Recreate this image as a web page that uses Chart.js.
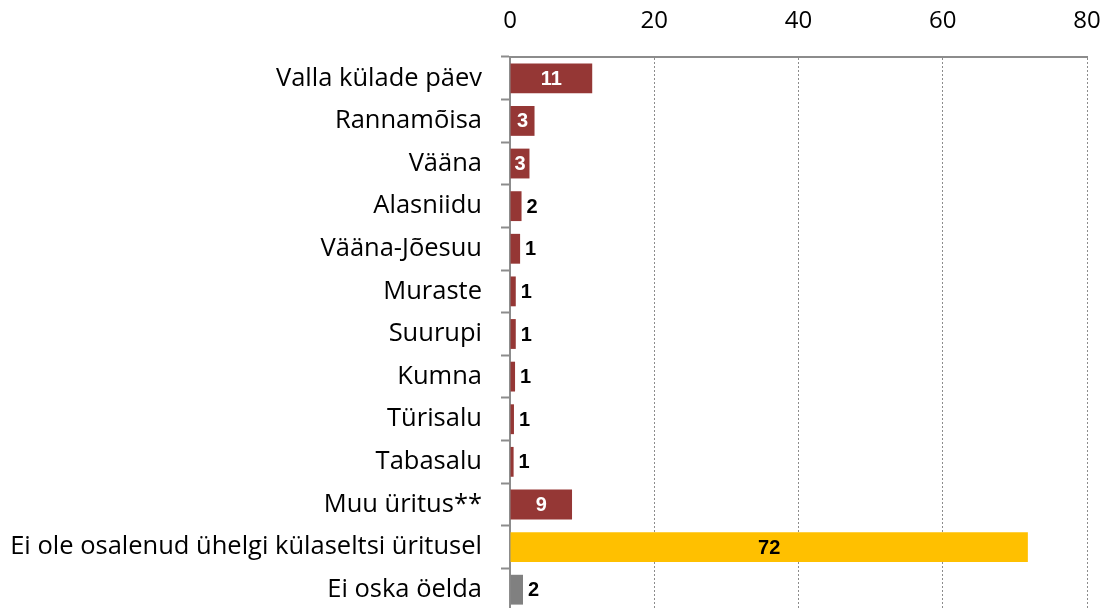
<!DOCTYPE html>
<html>
<head>
<meta charset="utf-8">
<script src="https://cdn.jsdelivr.net/npm/chart.js@4/dist/chart.umd.min.js"></script>
<style>
  html, body { margin: 0; padding: 0; background: #fff; overflow: hidden; }
</style>
</head>
<body>
<canvas id="canvas-bar" width="1108" height="611"></canvas>
<script>
// categories and values
var categories = [
  "Valla külade päev",
  "Rannamõisa",
  "Vääna",
  "Alasniidu",
  "Vääna-Jõesuu",
  "Muraste",
  "Suurupi",
  "Kumna",
  "Türisalu",
  "Tabasalu",
  "Muu üritus**",
  "Ei ole osalenud ühelgi külaseltsi üritusel",
  "Ei oska öelda"
];
var values = [11.4, 3.4, 2.7, 1.6, 1.4, 0.8, 0.8, 0.7, 0.55, 0.5, 8.6, 71.8, 1.8];
var shownLabels = ["11", "3", "3", "2", "1", "1", "1", "1", "1", "1", "9", "72", "2"];
var xTicks = [0, 20, 40, 60, 80];

var RED = "#953735";
var YELLOW = "#FFC000";
var GREY = "#808080";
var barColors = values.map(function (v, i) {
  if (i === 11) return YELLOW;
  if (i === 12) return GREY;
  return RED;
});

// draws the value labels on/after the bars
var barLabels = {
  id: "barLabels",
  afterDatasetsDraw: function (chart) {
    var ctx = chart.ctx;
    var meta = chart.getDatasetMeta(0);
    ctx.save();
    ctx.font = "bold 20px 'Liberation Sans', Arial, sans-serif";
    ctx.textBaseline = "middle";
    meta.data.forEach(function (bar, i) {
      var v = values[i];
      var txt = shownLabels[i];
      if (v >= 2.5) {
        ctx.textAlign = "center";
        ctx.fillStyle = barColors[i] === YELLOW ? "#000" : "#fff";
        ctx.fillText(txt, (bar.x + bar.base) / 2, bar.y + 1);
      } else {
        ctx.textAlign = "left";
        ctx.fillStyle = "#000";
        ctx.fillText(txt, bar.x + 5, bar.y + 1);
      }
    });
    ctx.restore();
  }
};

var ctx = document.getElementById("canvas-bar").getContext("2d");
var chart = new Chart(ctx, {
  type: "bar",
  data: {
    labels: categories,
    datasets: [
      {
        data: values,
        backgroundColor: barColors,
        barPercentage: 0.7,
        categoryPercentage: 1.0
      }
    ]
  },
  options: {
    indexAxis: "y",
    responsive: false,
    animation: false,
    layout: { padding: { left: 0, right: 21, top: 0, bottom: 0 } },
    plugins: {
      legend: { display: false },
      tooltip: { enabled: false }
    },
    scales: {
      x: {
        position: "top",
        min: 0,
        max: 80,
        afterBuildTicks: function (s) {
          s.ticks = xTicks.map(function (v) { return { value: v }; });
        },
        afterFit: function (s) {
          s.height = 57;
          s.paddingLeft = 0;
          s.paddingRight = 0;
        },
        grid: {
          color: "#8c8c8c",
          lineWidth: 1,
          drawTicks: false
        },
        border: { display: true, color: "#8c8c8c", width: 2, dash: [2, 2] },
        ticks: {
          color: "#000",
          padding: 21,
          font: { family: "'Open Sans', sans-serif", size: 24 }
        }
      },
      y: {
        afterFit: function (s) {
          s.width = 510;
          s.paddingTop = 0;
          s.paddingBottom = 0;
        },
        grid: {
          offset: true,
          drawOnChartArea: false,
          drawTicks: true,
          tickLength: 9,
          tickColor: "#8c8c8c",
          tickWidth: 2
        },
        border: { display: true, color: "#8c8c8c", width: 2 },
        ticks: {
          color: "#000",
          padding: 19,
          autoSkip: false,
          font: { family: "'Open Sans', sans-serif", size: 25.5 }
        }
      }
    }
  },
  plugins: [barLabels]
});
chart.render();
</script>
</body>
</html>
